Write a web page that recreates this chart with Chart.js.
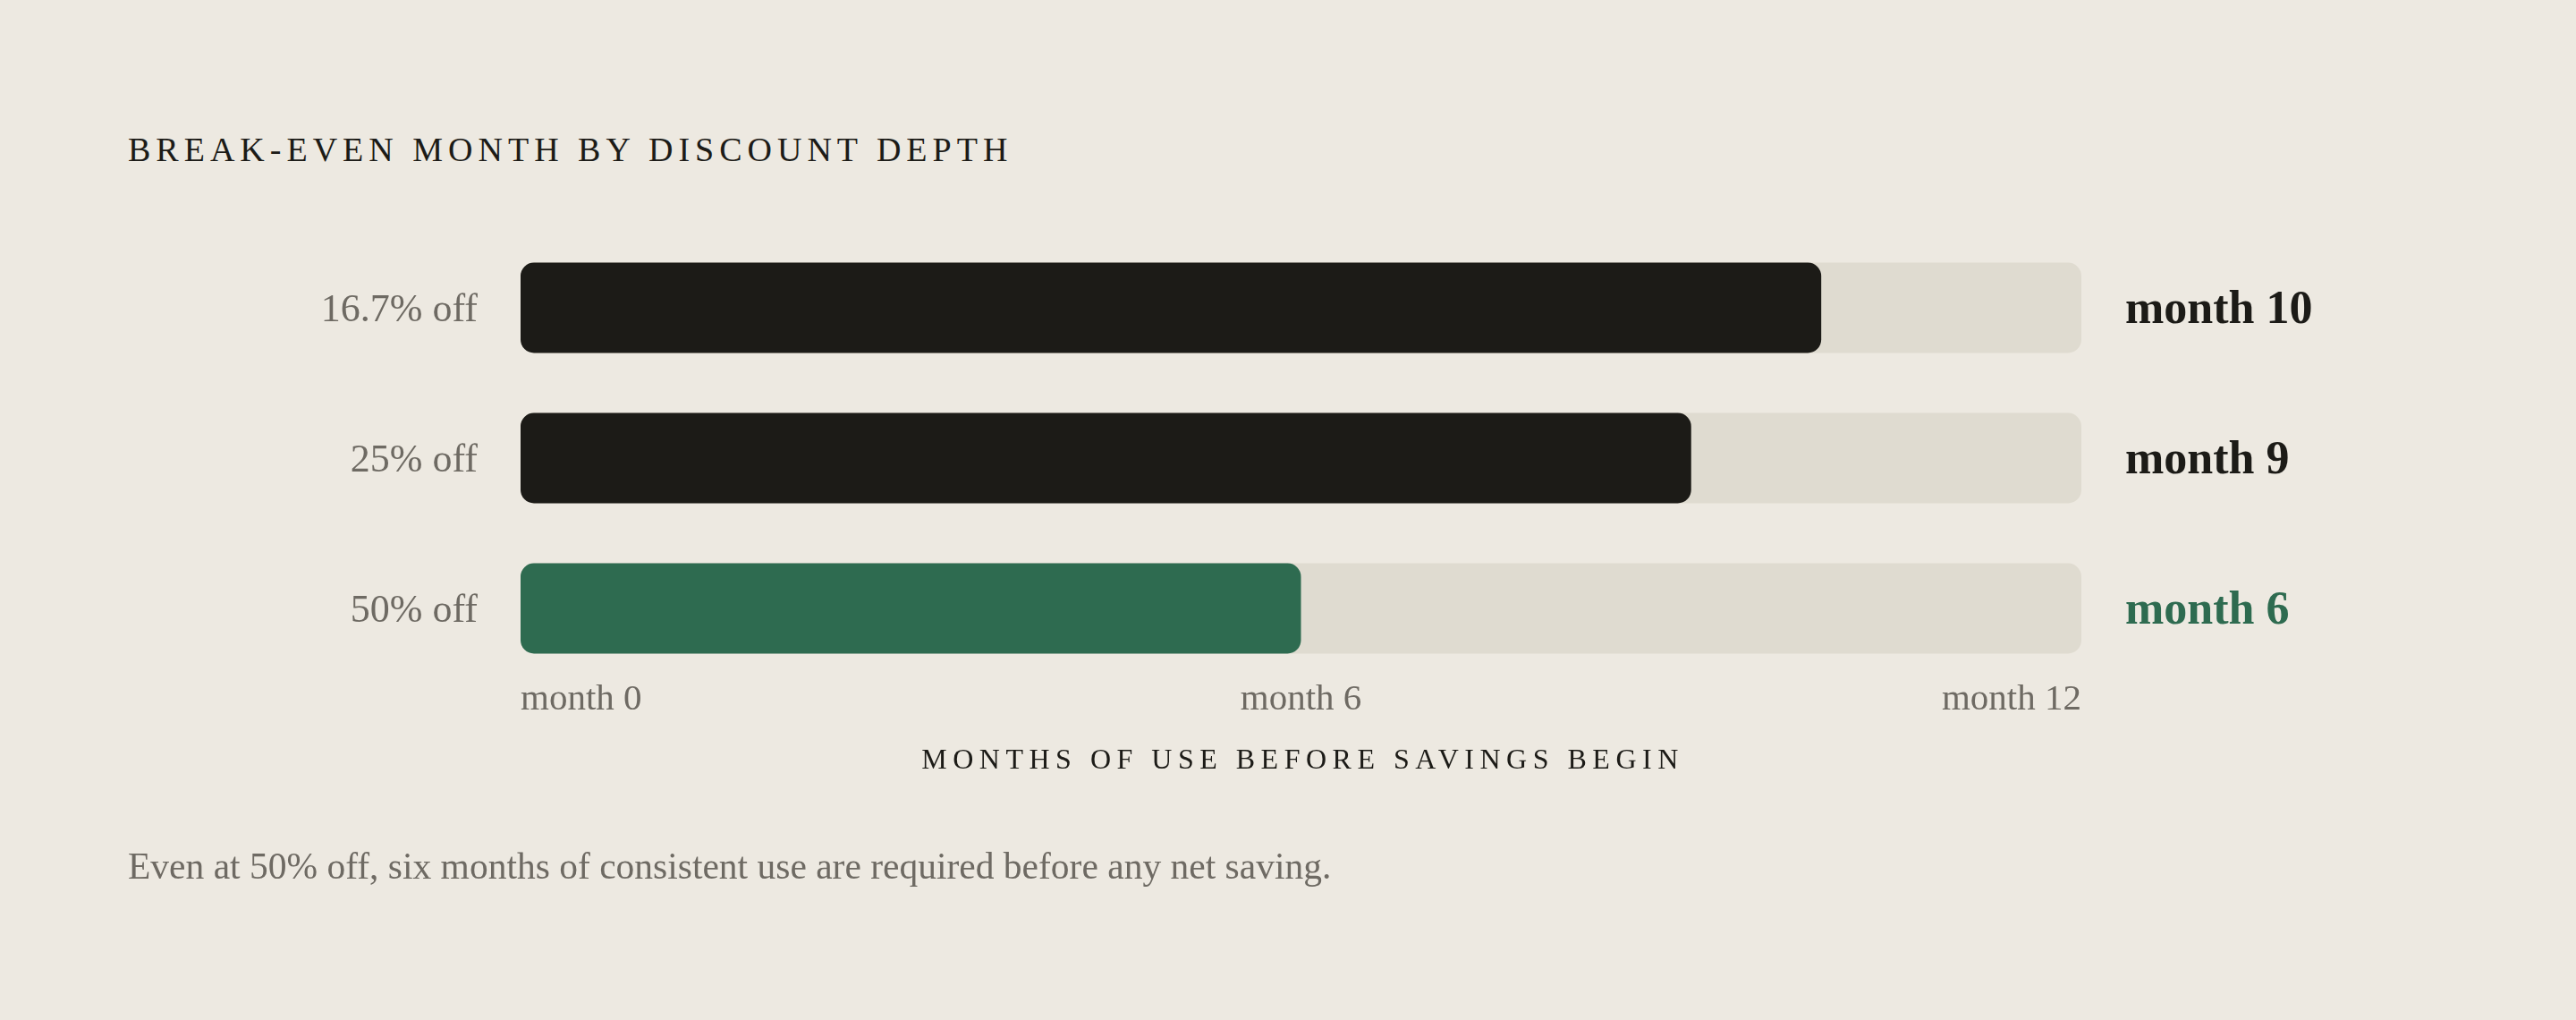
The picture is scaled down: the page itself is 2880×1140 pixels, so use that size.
<!DOCTYPE html>
<html>
<head>
<meta charset="utf-8">
<script src="https://cdn.jsdelivr.net/npm/chart.js@4/dist/chart.umd.min.js"></script>
<style>
  html, body { margin: 0; padding: 0; background: #EDE9E1; }
  body { width: 2880px; height: 1140px; position: relative; overflow: hidden; font-family: "Liberation Serif", serif; }
  #title { position: absolute; left: 143px; top: 148px; font-size: 38px; line-height: 38px; letter-spacing: 6px; color: #1C1B17; white-space: nowrap; }
  #note { position: absolute; left: 143px; top: 948px; font-size: 41.5px; line-height: 41.5px; color: #6E6A63; white-space: nowrap; }
  #c { position: absolute; left: 0; top: 0; }
</style>
</head>
<body>
<div id="title">BREAK-EVEN MONTH BY DISCOUNT DEPTH</div>
<canvas id="c" width="2880" height="1140"></canvas>
<div id="note">Even at 50% off, six months of consistent use are required before any net saving.</div>
<script>
const categories = ["16.7% off", "25% off", "50% off"];
const breakEvenMonths = [10, 9, 6];
const horizonMonths = [12, 12, 12];
const tickValues = [0, 6, 12];
const valueLabels = ["month 10", "month 9", "month 6"];
const axisTitle = "MONTHS OF USE BEFORE SAVINGS BEGIN";

const DARK = "#1C1B17";
const GREEN = "#2E6B50";
const TRACK = "#DFDBD0";
const GREY = "#6E6A63";
const barColors = [DARK, DARK, GREEN];
const FONT = "'Liberation Serif', serif";

const overlay = {
  id: "overlay",
  afterDatasetsDraw(chart) {
    const ctx = chart.ctx;
    const meta = chart.getDatasetMeta(0);
    ctx.save();
    ctx.textBaseline = "middle";
    ctx.textAlign = "left";
    ctx.font = "bold 52px " + FONT;
    meta.data.forEach((bar, i) => {
      ctx.fillStyle = barColors[i];
      ctx.fillText(valueLabels[i], chart.chartArea.right + 49, bar.y + 4);
    });
    const area = chart.chartArea;
    ctx.font = "32px " + FONT;
    ctx.fillStyle = DARK;
    ctx.textAlign = "center";
    try { ctx.letterSpacing = "6.5px"; } catch (e) {}
    ctx.fillText(axisTitle, (area.left + area.right) / 2 + 2, 851);
    ctx.restore();
  }
};

new Chart(document.getElementById("c"), {
  type: "bar",
  data: {
    labels: categories,
    datasets: [
      {
        data: breakEvenMonths,
        backgroundColor: barColors,
        borderRadius: 15,
        borderSkipped: false,
        grouped: false,
        order: 0,
        categoryPercentage: 1,
        barPercentage: 0.6
      },
      {
        data: horizonMonths,
        backgroundColor: TRACK,
        borderRadius: 15,
        borderSkipped: false,
        grouped: false,
        order: 1,
        categoryPercentage: 1,
        barPercentage: 0.6
      }
    ]
  },
  options: {
    indexAxis: "y",
    responsive: false,
    devicePixelRatio: 1,
    animation: false,
    layout: { padding: { left: 0, right: 553, top: 260, bottom: 316 } },
    plugins: { legend: { display: false }, tooltip: { enabled: false }, title: { display: false } },
    scales: {
      x: {
        min: 0, max: 12,
        afterBuildTicks(scale) { scale.ticks = tickValues.map(v => ({ value: v })); },
        afterFit(scale) { scale.height = 60; },
        grid: { display: false, drawTicks: false },
        border: { display: false },
        ticks: {
          align: "inner",
          padding: -2,
          color: GREY,
          font: { family: FONT, size: 41, lineHeight: 1 },
          callback: v => "month " + v
        }
      },
      y: {
        afterFit(scale) { scale.width = 582; },
        grid: { display: false, drawTicks: false },
        border: { display: false },
        ticks: {
          padding: 48,
          labelOffset: 3,
          color: GREY,
          font: { family: FONT, size: 44 }
        }
      }
    }
  },
  plugins: [overlay]
});
</script>
</body>
</html>
